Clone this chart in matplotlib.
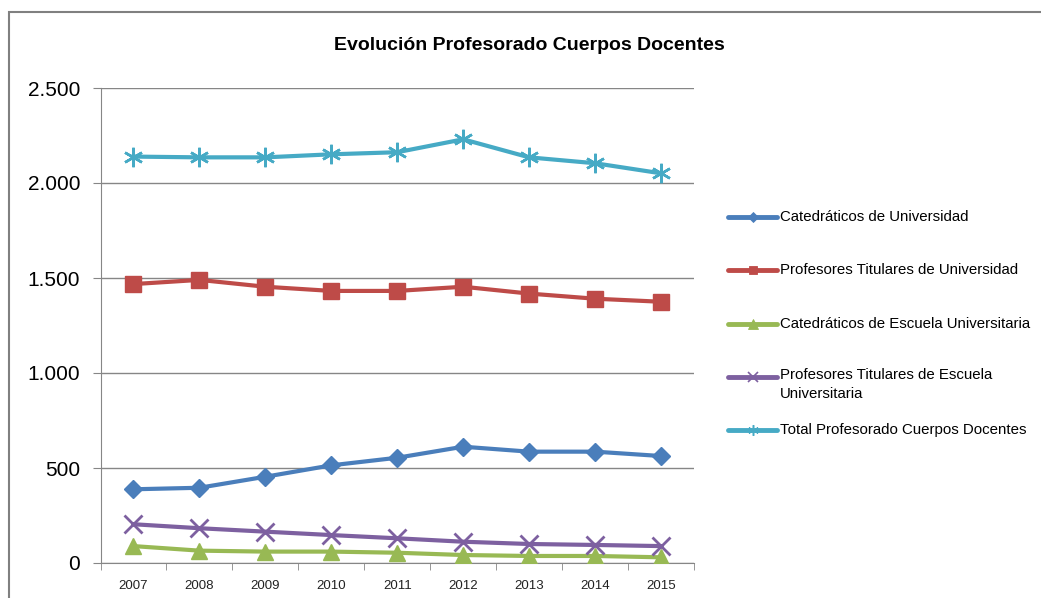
import matplotlib.pyplot as plt
from matplotlib.lines import Line2D
from matplotlib.patches import Rectangle
from matplotlib.ticker import FuncFormatter, FixedLocator


years = ["2007", "2008", "2009", "2010", "2011", "2012", "2013", "2014", "2015"]

cat_univ = [388, 396, 454, 514, 554, 612, 586, 586, 563]
tit_univ = [1468, 1490, 1454, 1432, 1432, 1454, 1418, 1391, 1375]
cat_escuela = [89, 65, 60, 60, 54, 42, 37, 37, 30]
tit_escuela = [204, 183, 165, 147, 130, 112, 100, 95, 89]
total = [2139, 2135, 2135, 2151, 2162, 2230, 2135, 2104, 2051]

labels = ["Catedráticos de Universidad",
          "Profesores Titulares de Universidad",
          "Catedráticos de Escuela Universitaria",
          "Profesores Titulares de Escuela\nUniversitaria",
          "Total Profesorado Cuerpos Docentes"]

plt.rcParams['font.family'] = ['Liberation Sans', 'DejaVu Sans']

W, H = 1041, 598
fig = plt.figure(figsize=(W / 100, H / 100), dpi=100)
ax = fig.add_axes([100.5 / W, 1 - 563 / H, 593.5 / W, 475 / H])

asterisk = (6, 2, 0)
series = [
    (cat_univ, "#4A7EBB", "D", 9, 1),
    (tit_univ, "#BE4B48", "s", 11, 1),
    (cat_escuela, "#98B954", "^", 12, 1),
    (tit_escuela, "#7D60A0", "x", 13, 2),
    (total, "#46AAC5", asterisk, 14, 1.8),
]
x = list(range(len(years)))
for (vals, col, mk, ms, mew), lab in zip(series, labels):
    ax.plot(x, vals, color=col, lw=3, marker=mk, markersize=ms,
            markeredgecolor=col, markerfacecolor=col, markeredgewidth=mew,
            zorder=3)

ax.set_xlim(-0.5, 8.5)
ax.set_ylim(0, 2500)
ax.set_yticks(range(0, 2501, 500))
ax.yaxis.set_major_formatter(FuncFormatter(lambda v, p: f"{int(v):,}".replace(",", ".")))
ax.set_xticks(x)
ax.set_xticklabels(years, fontsize=9.5, color="#222222")
ax.xaxis.set_minor_locator(FixedLocator([i - 0.5 for i in range(len(years) + 1)]))
ax.tick_params(axis="x", which="major", length=0, pad=12)
ax.tick_params(axis="x", which="minor", length=5, color="#868686")
ax.tick_params(axis="y", labelsize=15, length=6, color="#868686", pad=8.5)

ax.grid(axis="y", color="#868686", lw=1)
ax.set_axisbelow(True)
for s in ["top", "right"]:
    ax.spines[s].set_visible(False)
for s in ["left", "bottom"]:
    ax.spines[s].set_color("#868686")

fig.text(0.509, 1 - 45 / H, "Evolución Profesorado Cuerpos Docentes",
         ha="center", va="center", fontsize=14, fontweight="bold")

# leyenda manual, estilo Excel (marcador alineado con la primera linea)
leg_x0, leg_x1, leg_tx = 728 / W, 777 / W, 780 / W
leg_y0, leg_step = 217, 53.3
for i, ((vals, col, mk, ms, mew), lab) in enumerate(zip(series, labels)):
    yy = 1 - (leg_y0 + i * leg_step) / H
    fig.add_artist(Line2D([leg_x0, (leg_x0 + leg_x1) / 2, leg_x1], [yy, yy, yy],
                          transform=fig.transFigure, color=col, lw=3.5,
                          marker=mk, markevery=[1], markersize=ms * 0.55,
                          markeredgecolor=col, markerfacecolor=col,
                          markeredgewidth=mew * 0.6, solid_capstyle="round"))
    multi = "\n" in lab
    fig.text(leg_tx, yy + (9 / H if multi else 0), lab, ha="left",
             va="top" if multi else "center", fontsize=10.8, linespacing=1.45)

fig.patches.append(Rectangle((8.5 / W, -0.1), 1.2, 1 - 12 / H + 0.1,
                             transform=fig.transFigure, fill=False,
                             edgecolor="#808080", lw=1.5))

fig.savefig("out.png", dpi=100)
